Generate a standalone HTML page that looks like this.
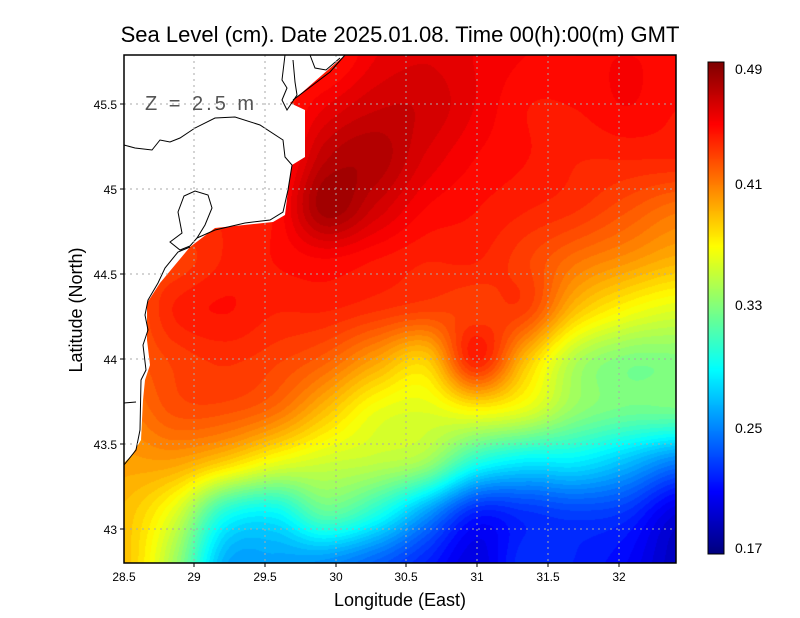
<!DOCTYPE html>
<html><head><meta charset="utf-8"><style>
body{margin:0;background:#fff;width:800px;height:618px;position:relative;overflow:hidden;font-family:"Liberation Sans",sans-serif}
canvas{position:absolute}
</style></head><body>
<canvas id="c" width="552" height="508" style="left:124px;top:55px"></canvas>
<canvas id="cb" width="16" height="492" style="left:708px;top:62px"></canvas>
<svg width="800" height="618" style="position:absolute;left:0;top:0">
<polygon fill="#fff" points="124,55 345,55 290,103 305,110 305,157 292,165 288,190 285,215 273,222 215,228 190,247 175,265 160,283 147,303 147,340 150,365 145,380 143,400 141,440 132,455 124,463"/>
<g fill="none" stroke="#000" stroke-width="1">
<polyline points="124,145 135,148 152,150 160,140 170,142 180,138 195,128 215,118 235,117 260,125 283,140 285,157 292,165 288,190 283,212 270,220 245,223 215,230 197,238"/>
<polyline points="197,238 190,246 180,250 170,242 182,233 178,212 184,196 195,191 208,195 212,208 205,225 197,238"/>
<polyline points="190,247 178,252 165,268 158,283 148,300 145,315 148,330 143,345 146,370 141,380 140,430 136,450 124,465"/>
<polyline points="124,403 136,402"/>
<polyline points="285,55 282,80 287,88 282,100 287,110 297,95 295,82 293,60"/>
<polyline points="293,100 330,72 345,55"/>
<polyline points="310,55 315,68 326,70 340,58"/>
</g>
<g stroke="#aaa" stroke-width="1" stroke-dasharray="2,4">
<line x1="194" y1="55" x2="194" y2="563"/><line x1="265" y1="55" x2="265" y2="563"/><line x1="336" y1="55" x2="336" y2="563"/><line x1="406" y1="55" x2="406" y2="563"/><line x1="477" y1="55" x2="477" y2="563"/><line x1="548" y1="55" x2="548" y2="563"/><line x1="619" y1="55" x2="619" y2="563"/>
<line x1="124" y1="104" x2="676" y2="104"/><line x1="124" y1="189" x2="676" y2="189"/><line x1="124" y1="274" x2="676" y2="274"/><line x1="124" y1="359" x2="676" y2="359"/><line x1="124" y1="444" x2="676" y2="444"/><line x1="124" y1="529" x2="676" y2="529"/>
</g>
<rect x="124" y="55" width="552" height="508" fill="none" stroke="#000" stroke-width="1.5"/>
<g stroke="#000" stroke-width="1">
<line x1="194" y1="563" x2="194" y2="567"/><line x1="265" y1="563" x2="265" y2="567"/><line x1="336" y1="563" x2="336" y2="567"/><line x1="406" y1="563" x2="406" y2="567"/><line x1="477" y1="563" x2="477" y2="567"/><line x1="548" y1="563" x2="548" y2="567"/><line x1="619" y1="563" x2="619" y2="567"/>
<line x1="120" y1="104" x2="124" y2="104"/><line x1="120" y1="189" x2="124" y2="189"/><line x1="120" y1="274" x2="124" y2="274"/><line x1="120" y1="359" x2="124" y2="359"/><line x1="120" y1="444" x2="124" y2="444"/><line x1="120" y1="529" x2="124" y2="529"/>
</g>
<text x="400" y="42" font-size="22" text-anchor="middle" font-family="Liberation Sans,sans-serif">Sea Level (cm). Date 2025.01.08. Time 00(h):00(m) GMT</text>
<text x="145" y="110" font-size="20" fill="#555" letter-spacing="3" font-family="Liberation Sans,sans-serif">Z = 2.5 m</text>
<g font-size="12" text-anchor="middle" font-family="Liberation Sans,sans-serif">
<text x="124" y="581">28.5</text><text x="194" y="581">29</text><text x="265" y="581">29.5</text><text x="336" y="581">30</text><text x="406" y="581">30.5</text><text x="477" y="581">31</text><text x="548" y="581">31.5</text><text x="619" y="581">32</text>
</g>
<g font-size="12" text-anchor="end" font-family="Liberation Sans,sans-serif">
<text x="117" y="109">45.5</text><text x="117" y="194">45</text><text x="117" y="279">44.5</text><text x="117" y="364">44</text><text x="117" y="449">43.5</text><text x="117" y="534">43</text>
</g>
<text x="400" y="606" font-size="18" text-anchor="middle" font-family="Liberation Sans,sans-serif">Longitude (East)</text>
<text transform="translate(82,310) rotate(-90)" font-size="18" text-anchor="middle" font-family="Liberation Sans,sans-serif">Latitude (North)</text>
<rect x="708" y="62" width="16" height="492" fill="none" stroke="#000" stroke-width="1"/>
<g font-size="14" font-family="Liberation Sans,sans-serif">
<text x="735" y="74">0.49</text><text x="735" y="189">0.41</text><text x="735" y="310">0.33</text><text x="735" y="433">0.25</text><text x="735" y="553">0.17</text>
</g>
</svg>
<script>
var G=[
[.44,.44,.44,.44,.44,.455,.46,.455,.45,.45,.45,.45],
[.44,.44,.44,.44,.455,.465,.465,.455,.445,.445,.45,.445],
[.44,.44,.44,.44,.47,.475,.46,.45,.445,.44,.44,.44],
[.44,.44,.44,.445,.48,.465,.45,.445,.44,.435,.425,.415],
[.43,.43,.44,.445,.45,.445,.44,.44,.43,.415,.405,.395],
[.42,.44,.445,.44,.44,.435,.43,.43,.43,.39,.37,.36],
[.42,.43,.435,.43,.42,.40,.385,.44,.39,.345,.33,.33],
[.41,.425,.425,.415,.39,.365,.36,.37,.36,.335,.325,.325],
[.40,.40,.385,.365,.355,.35,.34,.30,.285,.285,.27,.25],
[.39,.36,.30,.29,.32,.30,.26,.22,.225,.23,.225,.20],
[.39,.34,.265,.26,.255,.24,.22,.20,.225,.22,.21,.19]];
function cr(p0,p1,p2,p3,t){return 0.5*(2*p1+(-p0+p2)*t+(2*p0-5*p1+4*p2-p3)*t*t+(-p0+3*p1-3*p2+p3)*t*t*t);}
function g(r,c){r=Math.max(0,Math.min(10,r));c=Math.max(0,Math.min(11,c));return G[r][c];}
function val(x,y){var fx=x/552*11,fy=y/508*10;var c=Math.floor(fx),r=Math.floor(fy);var tx=fx-c,ty=fy-r;var rows=[];for(var i=-1;i<3;i++){rows.push(cr(g(r+i,c-1),g(r+i,c),g(r+i,c+1),g(r+i,c+2),tx));}return cr(rows[0],rows[1],rows[2],rows[3],ty);}
function cl(v){return Math.max(0,Math.min(1,v));}
function jet(t){t=cl(t);return[cl(1.5-Math.abs(4*t-3))*255,cl(1.5-Math.abs(4*t-2))*255,cl(1.5-Math.abs(4*t-1))*255];}
var c=document.getElementById('c').getContext('2d');var im=c.createImageData(552,508);
for(var y=0;y<508;y++)for(var x=0;x<552;x++){var v=val(x,y);var t=(v-0.17)/0.32;t=Math.round(t*60)/60;var k=jet(t);var i=(y*552+x)*4;im.data[i]=k[0];im.data[i+1]=k[1];im.data[i+2]=k[2];im.data[i+3]=255;}
c.putImageData(im,0,0);
var b=document.getElementById('cb').getContext('2d');
for(var y=0;y<492;y++){var k=jet(1-y/491);b.fillStyle='rgb('+(k[0]|0)+','+(k[1]|0)+','+(k[2]|0)+')';b.fillRect(0,y,16,1);}
</script>
</body></html>
